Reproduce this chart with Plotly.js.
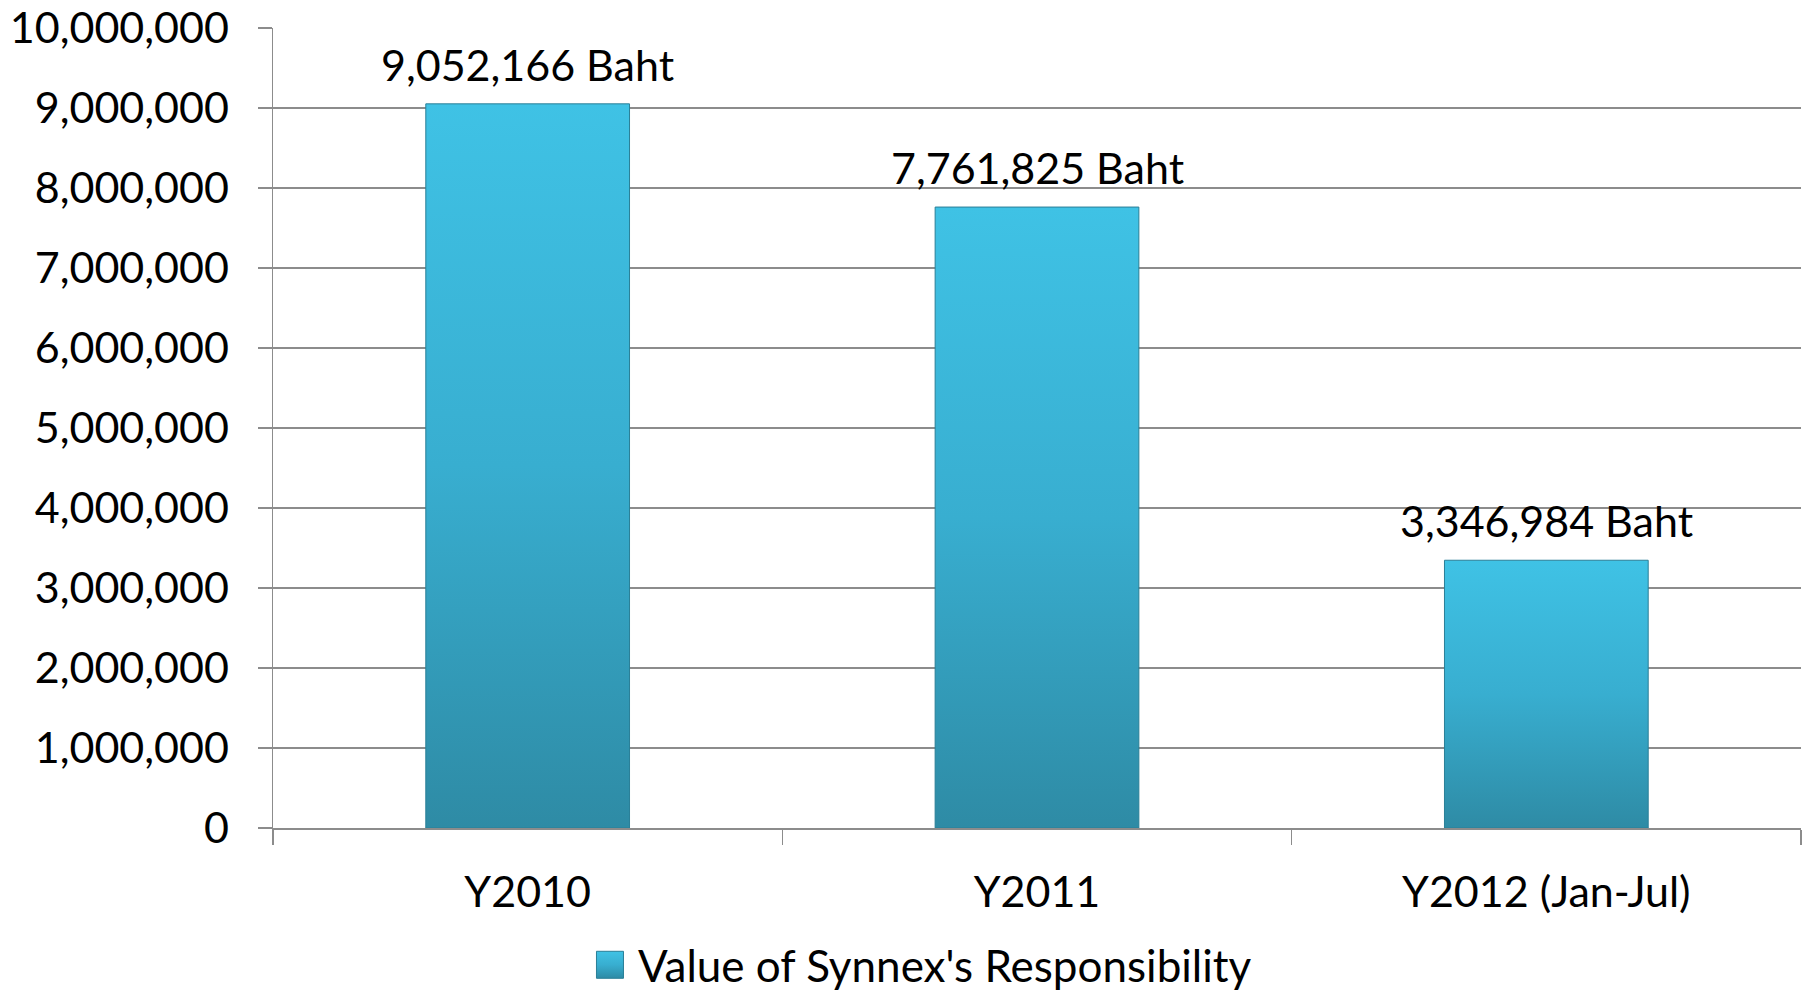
<!DOCTYPE html>
<html>
<head>
<meta charset="utf-8">
<script src="https://cdn.plot.ly/plotly-3.0.1.min.js"></script>
<style>
  html, body { margin: 0; padding: 0; background: #ffffff; }
  #chart { width: 1810px; height: 993px; }
</style>
</head>
<body>
<svg width="0" height="0" style="position:absolute">
  <defs>
    <linearGradient id="barGrad" x1="0" y1="0" x2="0" y2="1">
      <stop offset="0" stop-color="#3FC2E5"/>
      <stop offset="0.5" stop-color="#38AED0"/>
      <stop offset="1" stop-color="#2E8BA5"/>
    </linearGradient>
  </defs>
</svg>
<div id="chart"></div>
<script>
const categories = ["Y2010", "Y2011", "Y2012 (Jan-Jul)"];
const values = [9052166, 7761825, 3346984];
const seriesName = "Value of Synnex's Responsibility";
const labelSuffix = " Baht";

const FONT = "Lato, 'Open Sans', 'DejaVu Sans', sans-serif";
const GRID = "#8C8C8C";

const trace = {
  type: "bar",
  x: categories,
  y: values,
  name: seriesName,
  marker: { color: "#38AED0", line: { color: "#2A7F97", width: 1 } },
  hoverinfo: "skip",
  showlegend: true
};

const labelAnnotations = categories.map(function (c, i) {
  return {
    x: c,
    y: values[i],
    xref: "x",
    yref: "y",
    text: values[i].toLocaleString("en-US") + labelSuffix,
    showarrow: false,
    yanchor: "bottom",
    yshift: 12,
    font: { family: FONT, size: 43, color: "#000000" }
  };
});

const layout = {
  width: 1810,
  height: 993,
  margin: { l: 273, r: 9, t: 27.5, b: 165.3, pad: 0 },
  paper_bgcolor: "#ffffff",
  plot_bgcolor: "#ffffff",
  font: { family: FONT, size: 43, color: "#000000" },
  bargap: 0.6,
  showlegend: true,
  annotations: labelAnnotations,
  legend: {
    orientation: "h",
    xref: "container",
    yref: "container",
    x: 0.508,
    xanchor: "center",
    y: 0.028,
    yanchor: "middle",
    font: { family: FONT, size: 44, color: "#000000" },
    itemwidth: 46
  },
  xaxis: {
    type: "category",
    showline: true,
    linecolor: GRID,
    linewidth: 1.5,
    ticks: "outside",
    tickson: "boundaries",
    ticklen: 15,
    tickcolor: GRID,
    tickwidth: 1.5,
    showgrid: false,
    ticklabelstandoff: 26,
    tickfont: { family: FONT, size: 43, color: "#000000" }
  },
  yaxis: {
    range: [0, 10000000],
    dtick: 1000000,
    tick0: 0,
    tickformat: ",d",
    showline: true,
    linecolor: GRID,
    linewidth: 1.5,
    ticks: "outside",
    ticklen: 14,
    tickcolor: GRID,
    tickwidth: 1.5,
    showgrid: true,
    gridcolor: GRID,
    gridwidth: 1.5,
    zeroline: false,
    ticklabelstandoff: 20,
    tickfont: { family: FONT, size: 43, color: "#000000" }
  }
};

Plotly.newPlot("chart", [trace], layout, { staticPlot: true, displayModeBar: false }).then(function (gd) {
  gd.querySelectorAll(".bars .point path").forEach(function (p) {
    p.style.fill = "url(#barGrad)";
  });
  gd.querySelectorAll(".legend .legendpoints path").forEach(function (p) {
    p.setAttribute("d", "M13.5,13.5H-13.5V-13.5H13.5Z");
    p.style.fill = "url(#barGrad)";
  });
});
</script>
</body>
</html>
